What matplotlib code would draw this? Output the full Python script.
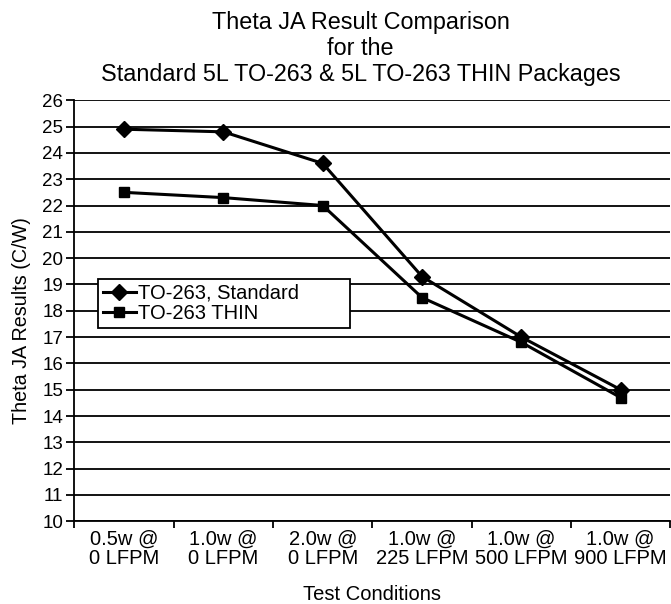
import matplotlib.pyplot as plt
import numpy as np

plt.rcParams['font.family'] = ['Liberation Sans', 'DejaVu Sans']

conditions = ["0.5w @\n0 LFPM", "1.0w @\n0 LFPM", "2.0w @\n0 LFPM",
              "1.0w @\n225 LFPM", "1.0w @\n500 LFPM", "1.0w @\n900 LFPM"]
standard = [24.9, 24.8, 23.6, 19.3, 17.0, 15.0]
thin = [22.5, 22.3, 22.0, 18.5, 16.8, 14.7]

fig = plt.figure(figsize=(6.71, 6.04), dpi=100)
ax = fig.add_axes([0.111, 0.137, 0.888, 0.697])

x = np.arange(len(conditions))
ax.plot(x, standard, color='black', lw=2.2, marker='D', markersize=8,
        label='TO-263, Standard', zorder=3)
ax.plot(x, thin, color='black', lw=2.2, marker='s', markersize=7,
        label='TO-263 THIN', zorder=3)

ax.set_xlim(-0.5, len(conditions) - 0.5)
ax.set_ylim(10, 26)
ax.set_yticks(range(10, 27))
ax.yaxis.grid(True, color='black', lw=1.3)
ax.set_axisbelow(True)

ax.set_xticks(x)
ax.set_xticklabels(conditions, fontsize=14.5, linespacing=1.05)
ax.set_xticks(np.arange(-0.5, len(conditions)), minor=True)
ax.tick_params(axis='x', which='major', length=0, pad=6)
ax.tick_params(axis='x', which='minor', length=5, width=1.3, direction='out')
ax.tick_params(axis='y', labelsize=13.5, length=6, width=1.3, direction='out', pad=2)

for s in ['top', 'right']:
    ax.spines[s].set_visible(False)
for s in ['left', 'bottom']:
    ax.spines[s].set_linewidth(1.3)

ax.set_xlabel('Test Conditions', fontsize=14.5, labelpad=12)
ax.set_ylabel('Theta JA Results (C/W)', fontsize=14.2, labelpad=8)
ax.yaxis.label.set_y(0.477)
ax.set_title('Theta JA Result Comparison\nfor the\nStandard 5L TO-263 & 5L TO-263 THIN Packages',
             fontsize=16.8, linespacing=1.15, pad=14, x=0.48)

leg = ax.legend(loc='lower left', bbox_to_anchor=(0.04, 0.46, 0.423, 0.1),
                mode='expand', fontsize=14.5,
                frameon=True, fancybox=False, framealpha=1, edgecolor='black',
                borderpad=0.25, labelspacing=0.05, handlelength=1.6,
                handletextpad=0.1, borderaxespad=0)
leg.get_frame().set_linewidth(1.3)

fig.savefig('out.png', dpi=100)
